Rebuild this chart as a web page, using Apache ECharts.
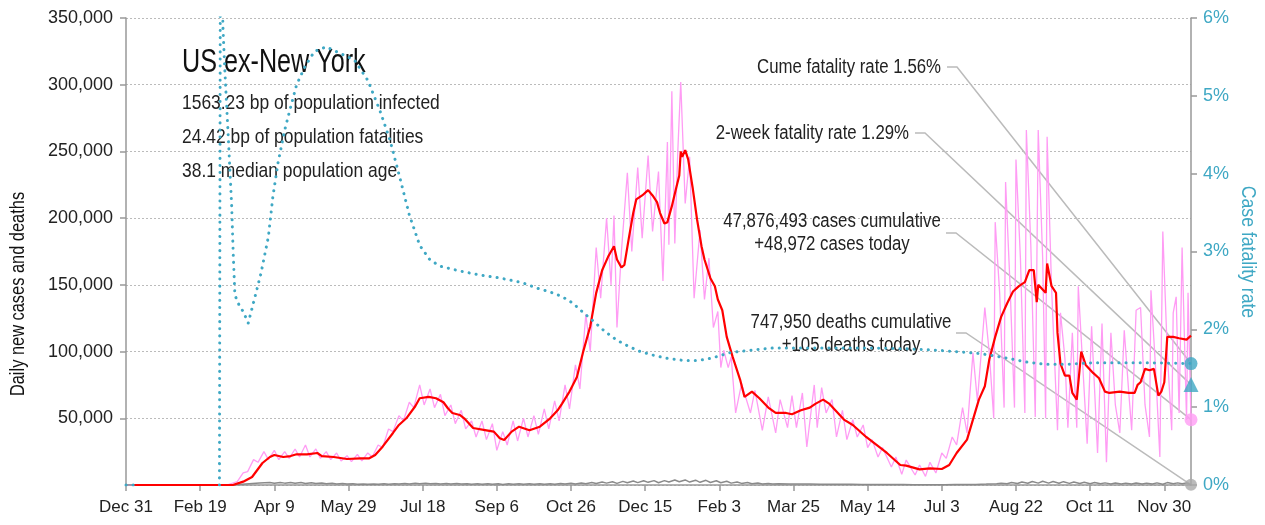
<!DOCTYPE html>
<html><head><meta charset="utf-8">
<script src="https://cdn.jsdelivr.net/npm/echarts@6/dist/echarts.min.js"></script>
<style>html,body{margin:0;padding:0;background:#fff}#c{width:1265px;height:525px}</style>
</head><body><div id="c"></div>
<script>
const FONT = '"Liberation Sans", Arial, sans-serif';
const MONTHS = ['Jan','Feb','Mar','Apr','May','Jun','Jul','Aug','Sep','Oct','Nov','Dec'];
// x values are days since Dec 31, 2019
const lastDay = 718;
const xTickInterval = 50;
const casesAxisMax = 350000, casesAxisStep = 50000;
const cfrAxisMax = 6, cfrAxisStep = 1;

const titleText = 'US ex-New York';
const infoLines = ['1563.23 bp of population infected', '24.42 bp of population fatalities', '38.1 median population age'];
const cumCasesText = '47,876,493';
const cumDeathsText = '747,950';
const todayCases = 48972, todayDeaths = 105, cumeCFR = 1.56, twoWeekCFR = 1.29;

const dailyCases = [[0,0],[68,0],[72,1500],[75,2500],[79,9000],[82,10000],[86,19000],[89,17000],[93,25000],[96,19000],[100,26000],[103,19000],[107,25000],[110,20000],[114,27000],[117,21000],[121,30000],[124,21000],[128,27000],[131,20000],[135,25000],[138,19000],[142,24000],[145,18000],[149,22000],[152,17500],[156,23000],[159,18000],[163,24000],[166,21000],[170,30000],[173,28000],[177,42000],[180,40000],[184,52000],[187,48000],[191,62000],[194,58000],[198,75000],[201,60000],[205,72000],[208,58000],[212,68000],[215,52000],[219,60000],[222,46000],[226,56000],[229,42000],[233,48000],[236,36000],[240,48000],[243,34000],[247,46000],[250,26000],[254,40000],[257,30000],[261,48000],[264,33000],[268,50000],[271,36000],[275,52000],[278,38000],[282,57000],[285,42000],[289,63000],[292,48000],[296,75000],[299,57000],[303,90000],[306,72000],[310,128000],[313,100000],[317,178000],[320,140000],[324,200000],[327,150000],[329,202000],[331,118000],[334,175000],[338,234000],[341,175000],[345,238000],[348,185000],[352,247000],[355,190000],[359,235000],[362,153000],[365,257000],[366,180000],[368,295000],[370,181000],[372,250000],[374,302000],[377,211000],[380,246000],[383,140000],[387,191000],[390,139000],[393,170000],[396,118000],[399,130000],[401,88000],[403,101000],[406,88000],[408,96000],[411,54000],[415,76000],[421,54000],[424,71000],[429,41000],[433,66000],[438,39000],[441,64000],[446,43000],[449,67000],[452,43000],[456,69000],[459,28500],[464,75000],[466,43000],[469,73000],[472,54000],[476,64000],[479,36000],[483,56000],[486,34000],[490,49000],[493,36000],[497,45000],[500,28000],[503,34000],[507,21000],[510,28000],[516,13500],[519,21000],[523,8000],[526,18700],[532,7500],[535,15000],[539,6500],[542,17000],[546,9000],[550,24000],[553,20000],[557,36000],[560,30000],[564,58000],[567,39000],[571,99000],[574,63000],[579,133000],[582,99000],[585,50000],[586,197000],[589,144000],[592,58000],[593,227000],[596,150000],[599,58000],[600,244000],[603,170000],[606,54000],[607,266000],[610,180000],[613,51000],[615,266000],[618,170000],[620,50000],[621,261000],[624,148000],[628,41000],[630,129000],[633,95000],[635,43000],[638,114000],[641,43000],[642,149000],[645,90000],[648,31000],[651,119000],[655,24000],[658,121000],[661,17000],[664,114000],[667,60000],[670,39000],[673,116000],[676,70000],[678,41000],[681,131000],[684,133000],[687,60000],[690,36000],[691,146000],[694,90000],[697,21000],[699,190000],[702,100000],[705,41000],[706,129000],[708,141000],[710,54000],[712,178000],[715,48700],[716,144000],[718,48972]];

const avgCases = [[5,0],[72,0],[79,2500],[85,6000],[92,16500],[97,21000],[100,22500],[106,21000],[111,21700],[115,23000],[122,23000],[129,24000],[132,21700],[140,21000],[149,19500],[158,20000],[164,20000],[168,22500],[173,28700],[180,39000],[184,45000],[189,50000],[195,59000],[198,65000],[204,66000],[209,65000],[214,62000],[217,57500],[220,54000],[225,52500],[228,50000],[234,42700],[243,41000],[248,40000],[252,35000],[255,33700],[260,40000],[265,43700],[272,41000],[279,43700],[286,50000],[291,56000],[294,61000],[299,70000],[304,81000],[308,99000],[313,119000],[317,144000],[321,161000],[325,171000],[329,179000],[331,169000],[334,163000],[336,165000],[339,185000],[342,204000],[344,214000],[348,217000],[352,221000],[355,217000],[358,212000],[360,204000],[363,196000],[365,197000],[368,209000],[371,223000],[373,232000],[374,250000],[375,246000],[377,251000],[379,244000],[382,223000],[385,199000],[388,179000],[390,169000],[394,155000],[397,149000],[399,139000],[402,131000],[405,111000],[409,96000],[414,79000],[417,66000],[422,70000],[427,65000],[433,58000],[438,54000],[445,54000],[449,53000],[455,56000],[461,58000],[465,61000],[470,64000],[474,61000],[479,55000],[484,49000],[490,45000],[499,36000],[506,30000],[513,24000],[522,15000],[526,14500],[535,11700],[542,12500],[550,12000],[555,15000],[560,24000],[567,34000],[571,49000],[575,64000],[579,74000],[582,94000],[586,111000],[590,126000],[594,136000],[598,145000],[602,149000],[606,152000],[609,161000],[612,161000],[614,137000],[615,150000],[620,144000],[621,166000],[624,149000],[627,144000],[628,114000],[630,91000],[633,82000],[636,82000],[638,69000],[641,64000],[644,100000],[647,90000],[652,84000],[656,80000],[660,70000],[663,69000],[670,70000],[676,69000],[680,69000],[682,75000],[684,77000],[687,87000],[690,86000],[693,87000],[696,67000],[698,70000],[700,77000],[702,111000],[706,111000],[710,110000],[715,109000],[718,112000]];

const dailyDeaths = [[0,0],[70,0],[76,300],[83,900],[90,1500],[97,1800],[100,1300],[104,1900],[107,1400],[111,1900],[114,1300],[118,1800],[121,1200],[125,1700],[128,1100],[132,1500],[135,900],[139,1300],[142,800],[146,1100],[149,700],[153,900],[156,600],[160,800],[163,600],[167,800],[170,500],[174,900],[177,600],[181,1000],[184,700],[188,1200],[191,800],[195,1300],[198,900],[202,1300],[205,900],[209,1200],[212,800],[216,1200],[219,800],[223,1100],[226,700],[230,1000],[233,600],[237,950],[240,500],[244,900],[247,500],[251,850],[254,450],[258,900],[261,500],[265,850],[268,500],[272,900],[275,500],[279,950],[282,550],[286,1000],[289,600],[293,1100],[296,700],[300,1300],[303,800],[307,1500],[310,1000],[314,1900],[317,1200],[321,2200],[324,1400],[328,2400],[331,1200],[335,2700],[338,1700],[342,3000],[345,1800],[349,3200],[352,2000],[356,3300],[359,1700],[363,3300],[366,2200],[370,3700],[373,2400],[377,3800],[380,2200],[384,3600],[387,2000],[391,3500],[394,1900],[398,3200],[401,1700],[405,2800],[408,1400],[412,2300],[415,1200],[419,1900],[422,1000],[426,1500],[429,800],[433,1200],[436,700],[440,1000],[447,800],[454,700],[461,750],[468,650],[475,600],[482,550],[489,500],[496,450],[503,400],[510,350],[517,300],[524,300],[531,250],[538,250],[545,200],[552,250],[559,300],[566,350],[573,450],[580,700],[587,1000],[590,1400],[594,900],[597,1800],[601,1100],[604,2300],[608,1300],[611,2600],[615,1400],[618,2800],[622,1400],[625,2600],[629,1300],[632,2500],[636,1200],[639,2200],[643,1100],[646,2000],[650,1000],[653,1800],[657,900],[660,1600],[664,800],[667,1500],[671,700],[674,1400],[678,800],[681,1500],[685,700],[688,1400],[692,800],[695,1600],[699,600],[702,1800],[706,900],[709,1600],[712,900],[715,1500],[718,105]];

const cfrPct = [[0,0],[5,0],[6,'-'],[62,'-'],[63,0],[63.8,9],[65.3,5.9],[66.7,5.3],[69,4.45],[71.2,3.6],[72.3,2.96],[73.4,2.45],[74.6,2.38],[76.8,2.29],[79,2.23],[82.4,2.08],[84.7,2.25],[87,2.42],[91,2.72],[96,3.19],[99,3.7],[102.5,4.14],[107,4.56],[110.5,4.82],[115,5.14],[120.5,5.37],[127,5.57],[135,5.63],[144,5.55],[154,5.46],[163,5.2],[171,4.82],[178,4.43],[185,3.92],[191,3.47],[198,3.08],[205,2.89],[212,2.81],[225,2.75],[238,2.7],[252,2.66],[267,2.6],[277,2.53],[286,2.48],[294,2.42],[301,2.34],[308,2.22],[316,2.09],[323,1.97],[331,1.86],[338,1.79],[346,1.72],[355,1.67],[364,1.63],[376,1.6],[386,1.6],[395,1.63],[407,1.7],[420,1.73],[436,1.76],[459,1.76],[481,1.76],[503,1.76],[526,1.75],[548,1.73],[562,1.71],[575,1.69],[582,1.67],[594,1.63],[607,1.58],[620,1.55],[634,1.55],[652,1.57],[670,1.57],[690,1.57],[718,1.56]];

const TEAL = '#3fa8c4', PINK = '#ff9cf4', RED = '#ff0000', GRAY = '#8a8a8a';

function dayLabel(v) {
  const d = new Date(Date.UTC(2019, 11, 31 + Math.round(v)));
  return MONTHS[d.getUTCMonth()] + ' ' + d.getUTCDate();
}

const chart = echarts.init(document.getElementById('c'), null, {renderer: 'canvas'});
chart.setOption({
  animation: false,
  backgroundColor: '#fff',
  grid: {left: 126, right: 74, top: 18, bottom: 40},
  xAxis: {
    type: 'value', min: 0, max: lastDay, interval: xTickInterval,
    axisLine: {lineStyle: {color: '#999', width: 1.5}},
    axisTick: {length: 6, lineStyle: {color: '#999', width: 1.5}},
    axisLabel: {formatter: dayLabel, showMaxLabel: false, color: '#222', fontFamily: FONT, fontSize: 17, margin: 14},
    splitLine: {show: false}
  },
  yAxis: [{
    type: 'value', min: 0, max: casesAxisMax, interval: casesAxisStep,
    axisLine: {show: true, lineStyle: {color: '#999', width: 1.5}},
    axisTick: {show: true, length: 6, lineStyle: {color: '#999', width: 1.5}},
    axisLabel: {formatter: v => v.toLocaleString('en-US'), showMinLabel: false, color: '#222', fontFamily: FONT, fontSize: 18, margin: 13},
    splitLine: {show: true, lineStyle: {color: '#bbb', type: [2, 2], width: 1}}
  }, {
    type: 'value', min: 0, max: cfrAxisMax, interval: cfrAxisStep, position: 'right',
    axisLine: {show: true, lineStyle: {color: '#999', width: 1.5}},
    axisTick: {show: true, length: 6, lineStyle: {color: '#999', width: 1.5}},
    axisLabel: {formatter: '{value}%', color: TEAL, fontFamily: FONT, fontSize: 18, margin: 12},
    splitLine: {show: false}
  }],
  series: [
    {type: 'line', data: dailyCases, showSymbol: false, lineStyle: {color: PINK, width: 1.3}, z: 2},
    {type: 'line', data: dailyDeaths, showSymbol: false, lineStyle: {color: GRAY, width: 1.5}, z: 3},
    {type: 'line', data: avgCases, showSymbol: false, lineStyle: {color: RED, width: 2.2}, z: 4},
    {type: 'line', yAxisIndex: 1, data: cfrPct, showSymbol: false, connectNulls: false,
      lineStyle: {color: TEAL, width: 3, type: [0.1, 7], cap: 'round'}, z: 5},
    {type: 'scatter', yAxisIndex: 1, data: [[lastDay, cumeCFR]], symbol: 'circle', symbolSize: 13, itemStyle: {color: TEAL}, z: 6},
    {type: 'scatter', yAxisIndex: 1, data: [[lastDay, twoWeekCFR]], symbol: 'triangle', symbolSize: 15, itemStyle: {color: TEAL}, z: 6},
    {type: 'scatter', yAxisIndex: 0, data: [[lastDay, todayCases]], symbol: 'circle', symbolSize: 13, itemStyle: {color: PINK}, z: 6},
    {type: 'scatter', yAxisIndex: 0, data: [[lastDay, todayDeaths]], symbol: 'circle', symbolSize: 12, itemStyle: {color: '#aaa'}, z: 6}
  ]
});

function px(axisIdx, x, y) {
  return chart.convertToPixel({xAxisIndex: 0, yAxisIndex: axisIdx}, [x, y]);
}
// condensed look: scale text horizontally about its anchor point
function txt(s, x, y, size, fill, align, sx, extra) {
  return {
    type: 'text', x: x, y: y, scaleX: sx, scaleY: 1,
    style: Object.assign({text: s, font: size + 'px ' + FONT, fill: fill, align: align || 'left', verticalAlign: 'middle'}, extra || {})
  };
}

const annots = [
  {text: 'Cume fatality rate ' + cumeCFR.toFixed(2) + '%', tx: 941, ty: 67, align: 'right', lx: 947, ly: 67, target: px(1, lastDay, cumeCFR)},
  {text: '2-week fatality rate ' + twoWeekCFR.toFixed(2) + '%', tx: 909, ty: 133, align: 'right', lx: 915, ly: 133, target: px(1, lastDay, twoWeekCFR)},
  {text: cumCasesText + ' cases cumulative\n+' + todayCases.toLocaleString('en-US') + ' cases today', tx: 832, ty: 233, align: 'center', lx: 946, ly: 233, target: px(0, lastDay, todayCases)},
  {text: cumDeathsText + ' deaths cumulative\n+' + todayDeaths + ' deaths today', tx: 851, ty: 334, align: 'center', lx: 956, ly: 333, target: px(0, lastDay, todayDeaths)}
];

const graphics = [
  txt(titleText, 182, 63, 34, '#111', 'left', 0.74),
  txt(infoLines[0], 182, 103, 21, '#222', 'left', 0.83),
  txt(infoLines[1], 182, 137, 21, '#222', 'left', 0.83),
  txt(infoLines[2], 182, 171, 21, '#222', 'left', 0.83),
  {type: 'text', x: 18, y: 294, rotation: Math.PI / 2, scaleX: 0.82,
    style: {text: 'Daily new cases and deaths', font: '20px ' + FONT, fill: '#111', align: 'center', verticalAlign: 'middle'}},
  {type: 'text', x: 1248, y: 252, rotation: -Math.PI / 2, scaleX: 0.84,
    style: {text: 'Case fatality rate', font: '21px ' + FONT, fill: TEAL, align: 'center', verticalAlign: 'middle'}}
];
annots.forEach(a => {
  graphics.push({type: 'polyline', shape: {points: [[a.lx, a.ly], [a.lx + 10, a.ly], a.target]},
    style: {stroke: '#bbb', lineWidth: 1.5, fill: null}, z: -1});
  graphics.push(txt(a.text, a.tx, a.ty, 20, '#222', a.align, 0.84, {lineHeight: 23}));
});
chart.setOption({graphic: graphics});
</script>
</body></html>
